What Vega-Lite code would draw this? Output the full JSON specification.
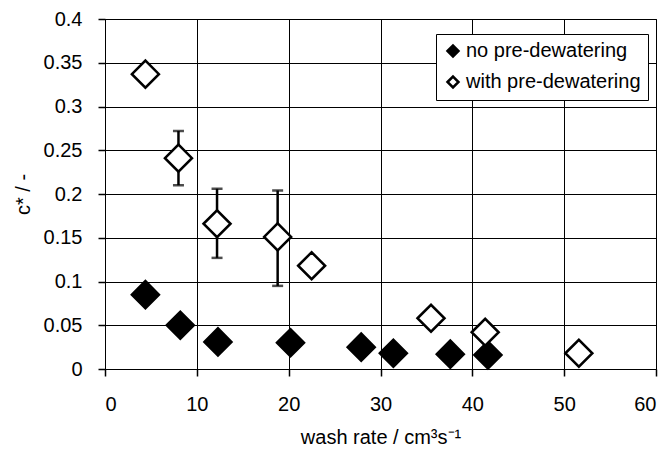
{
  "$schema": "https://vega.github.io/schema/vega-lite/v6.json",
  "autosize": "none",
  "width": 551,
  "height": 350,
  "padding": {"left": 105, "top": 19, "right": 13, "bottom": 83},
  "background": "white",
  "config": {
    "font": "Liberation Sans",
    "view": {"stroke": "black", "strokeWidth": 1},
    "axis": {
      "grid": true, "gridColor": "black", "gridOpacity": 1, "gridWidth": 1,
      "domainColor": "black", "tickColor": "black", "tickSize": 7, "tickWidth": 1.5,
      "labelFont": "Liberation Sans", "labelFontSize": 20, "labelColor": "black",
      "titleFont": "Liberation Sans", "titleFontSize": 20, "titleFontWeight": "normal", "titleColor": "black"
    }
  },
  "data": {"values": [
    {"series": "no pre-dewatering", "x": 4.4, "y": 0.085},
    {"series": "no pre-dewatering", "x": 8.2, "y": 0.050},
    {"series": "no pre-dewatering", "x": 12.3, "y": 0.031},
    {"series": "no pre-dewatering", "x": 20.2, "y": 0.030},
    {"series": "no pre-dewatering", "x": 27.9, "y": 0.025},
    {"series": "no pre-dewatering", "x": 31.4, "y": 0.018},
    {"series": "no pre-dewatering", "x": 37.6, "y": 0.017},
    {"series": "no pre-dewatering", "x": 41.7, "y": 0.016},
    {"series": "with pre-dewatering", "x": 4.4, "y": 0.337},
    {"series": "with pre-dewatering", "x": 8.0, "y": 0.241, "lo": 0.210, "hi": 0.272},
    {"series": "with pre-dewatering", "x": 12.2, "y": 0.166, "lo": 0.127, "hi": 0.206},
    {"series": "with pre-dewatering", "x": 18.8, "y": 0.151, "lo": 0.095, "hi": 0.204},
    {"series": "with pre-dewatering", "x": 22.5, "y": 0.118},
    {"series": "with pre-dewatering", "x": 35.5, "y": 0.058},
    {"series": "with pre-dewatering", "x": 41.4, "y": 0.042},
    {"series": "with pre-dewatering", "x": 51.6, "y": 0.018}
  ]},
  "layer": [
    {
      "transform": [{"filter": "isValid(datum.hi)"}],
      "mark": {"type": "rule", "color": "black", "strokeWidth": 2.5},
      "encoding": {
        "x": {"field": "x", "type": "quantitative"},
        "y": {"field": "lo", "type": "quantitative"},
        "y2": {"field": "hi"}
      }
    },
    {
      "transform": [{"filter": "isValid(datum.hi)"}],
      "mark": {"type": "tick", "orient": "horizontal", "color": "black", "size": 11, "thickness": 2.5},
      "encoding": {
        "x": {"field": "x", "type": "quantitative"},
        "y": {"field": "hi", "type": "quantitative"}
      }
    },
    {
      "transform": [{"filter": "isValid(datum.lo)"}],
      "mark": {"type": "tick", "orient": "horizontal", "color": "black", "size": 11, "thickness": 2.5},
      "encoding": {
        "x": {"field": "x", "type": "quantitative"},
        "y": {"field": "lo", "type": "quantitative"}
      }
    },
    {
      "mark": {"type": "point", "shape": "diamond", "filled": true, "size": 729, "stroke": "black", "strokeWidth": 2.5, "opacity": 1},
      "encoding": {
        "x": {"field": "x", "type": "quantitative",
          "scale": {"domain": [0, 60], "nice": false, "zero": true},
          "axis": {"values": [0, 10, 20, 30, 40, 50, 60], "title": "wash rate / cm³s⁻¹", "labelPadding": 18, "titlePadding": 13}},
        "y": {"field": "y", "type": "quantitative",
          "scale": {"domain": [0, 0.4], "nice": false},
          "axis": {"values": [0, 0.05, 0.1, 0.15, 0.2, 0.25, 0.3, 0.35, 0.4], "format": "~g", "title": "c* / -", "labelPadding": 16, "titlePadding": 10}},
        "fill": {"field": "series", "type": "nominal",
          "scale": {"domain": ["no pre-dewatering", "with pre-dewatering"], "range": ["black", "white"]},
          "legend": {
            "title": null, "orient": "none", "legendX": 331, "legendY": 15,
            "fillColor": "white", "strokeColor": "black", "padding": 7,
            "symbolType": "diamond", "symbolSize": 120, "symbolStrokeColor": "black", "symbolStrokeWidth": 2.5,
            "symbolOpacity": 1,
            "labelFontSize": 20, "labelFont": "Liberation Sans", "labelColor": "black", "labelOffset": 3, "labelLimit": 400,
            "rowPadding": 9, "cornerRadius": 0
          }}
      }
    }
  ]
}
